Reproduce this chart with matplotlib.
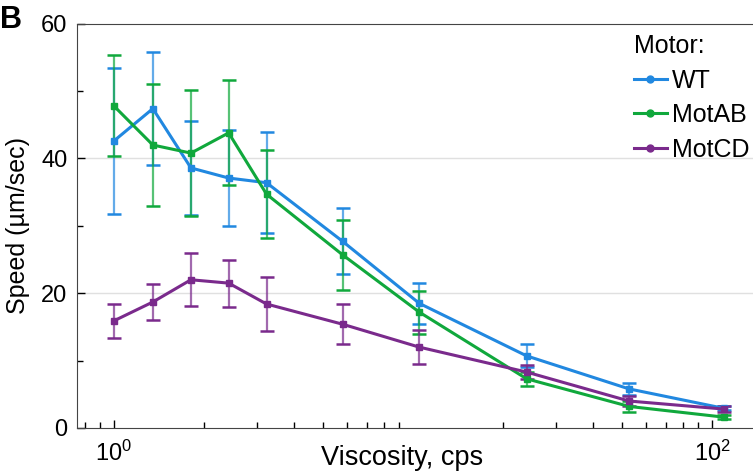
import numpy as np
import matplotlib
matplotlib.use("Agg")
import matplotlib.pyplot as plt
from matplotlib.lines import Line2D

plt.rcParams['font.family'] = ['Liberation Sans', 'DejaVu Sans']
plt.rcParams['mathtext.default'] = 'regular'

# viscosity (cps)
viscosity = [1.0, 1.35, 1.81, 2.42, 3.24, 5.82, 10.5, 24.0, 52.8, 110.0]

wt_speed = [42.6, 47.4, 38.6, 37.1, 36.4, 27.7, 18.5, 10.7, 5.8, 2.9]
wt_err = [10.8, 8.4, 7.0, 7.1, 7.5, 4.9, 3.0, 1.7, 0.9, 0.3]

motab_speed = [47.8, 42.0, 40.8, 43.8, 34.7, 25.7, 17.2, 7.3, 3.2, 1.6]
motab_err = [7.5, 9.0, 9.3, 7.8, 6.5, 5.2, 3.2, 1.0, 0.8, 0.3]

motcd_speed = [15.9, 18.7, 22.0, 21.5, 18.4, 15.4, 12.0, 8.3, 4.0, 2.8]
motcd_err = [2.5, 2.7, 3.9, 3.5, 4.0, 3.0, 2.5, 1.0, 0.7, 0.4]

series = [
    ("WT", wt_speed, wt_err, "#2188e0"),
    ("MotAB", motab_speed, motab_err, "#10a83c"),
    ("MotCD", motcd_speed, motcd_err, "#7a2a8c"),
]

fig = plt.figure(figsize=(7.53, 4.75), dpi=100)
ax = fig.add_axes([0.1023, 0.099, 0.9, 0.851])

for name, y, err, col in series:
    eb = ax.errorbar(viscosity, y, yerr=err, color=col, lw=2.2, marker='s',
                     ms=5, capsize=5, capthick=1.8, elinewidth=1.6, zorder=3)
    for bar in eb[2]:
        bar.set_alpha(0.7)

ax.set_xscale('log')
ax.set_xlim(0.753, 139)
ax.set_ylim(0, 60)
ax.set_yticks([0, 20, 40, 60])
ax.set_yticks([10, 30, 50], minor=True)
ax.set_xticks([1, 100])
ax.set_xticklabels(['$10^0$', '$10^2$'])
ax.tick_params(direction='in', labelsize=17, length=6, width=1)
ax.tick_params(which='minor', direction='in', length=4, width=1)
ax.tick_params(axis='x', pad=9)
ax.tick_params(axis='y', pad=7)
for y in [20, 40]:
    ax.axhline(y, color='#e0e0e0', lw=1, zorder=0)
ax.spines['right'].set_visible(False)
for s in ['left', 'bottom', 'top']:
    ax.spines[s].set_color('#444444')

ax.set_xlabel('Viscosity, cps', fontsize=19.5)
ax.xaxis.set_label_coords(0.48, -0.043)
ax.set_ylabel('Speed (µm/sec)', fontsize=18)
ax.yaxis.set_label_coords(-0.07, 0.5)

handles = [Line2D([], [], color=c, lw=2.2, marker='o', ms=5) for _, _, _, c in series]
labels = [s[0] for s in series]
leg = fig.legend(handles, labels, title='Motor:', loc='upper left', frameon=False,
                 fontsize=18, title_fontsize=18, handlelength=1.3, handletextpad=0.2,
                 borderaxespad=0, borderpad=0, labelspacing=0.42,
                 bbox_to_anchor=(0.842, 0.928))
leg._legend_box.align = "left"

fig.text(0.0, 0.99, 'B', fontsize=22, fontweight='bold', va='top')

fig.savefig('out.png', dpi=100)
